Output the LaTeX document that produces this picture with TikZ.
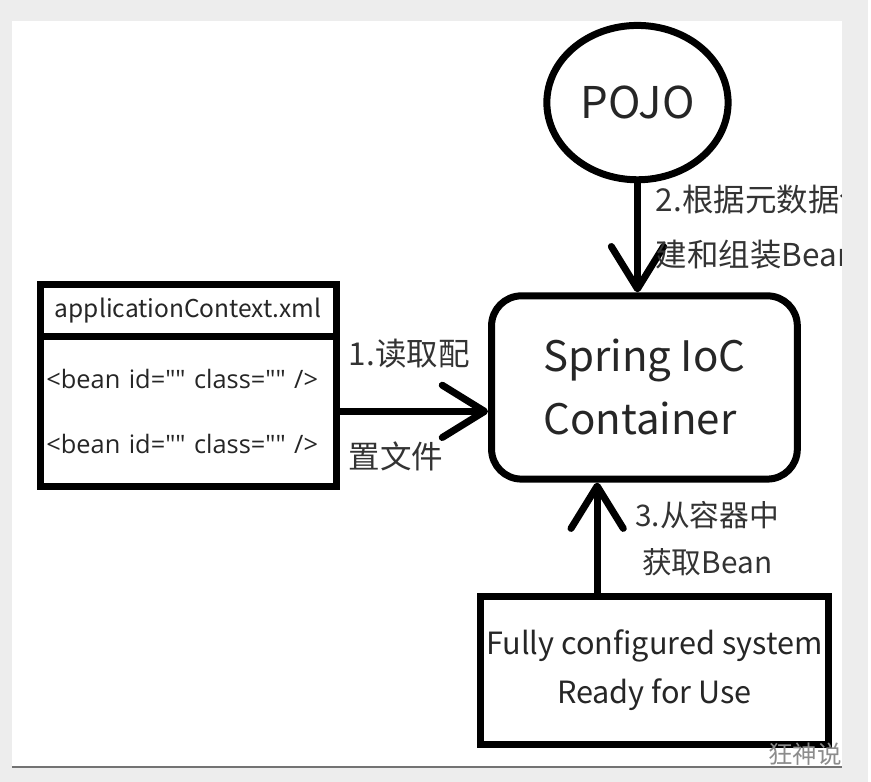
\documentclass[tikz,border=0pt]{standalone}
\usepackage{fontspec}
\setmainfont{Noto Sans CJK SC}
\newfontfamily\beanfont{Open Sans}
\usepackage{tikz}
\usetikzlibrary{shapes.geometric, arrows.meta, positioning}
\tikzstyle{arrow} = [line width=4pt, -{Straight Barb[length=0.85cm, width=1.05cm, line cap=round, line join=round]}]
\tikzstyle{box} = [rectangle, draw=black, line width=4pt, fill=white, text=black!85]
\tikzstyle{xmlbox} = [box, outer sep=0pt, minimum width=5.94cm, text width=5.7cm, font=\fontsize{14}{37}\selectfont]
\tikzstyle{lbl} = [inner sep=0pt, text=black!80, font=\fontsize{18}{24}\selectfont]

\begin{document}
\begin{tikzpicture}[x=0.02cm, y=-0.02cm]

% Page frame
\fill[black!7] (0,0) rectangle (871,785);
\fill[white] (12,21) rectangle (845,770);

% Main Components
\node (pojo) [ellipse, draw=black, line width=4pt, minimum width=3.64cm, minimum height=3.1cm, text=black!85, font=\fontsize{25}{30}\selectfont] at (640,103) {POJO};
\node (spring) [box, rounded corners=0.6cm, minimum width=6.14cm, minimum height=3.68cm, align=left, font=\fontsize{24}{36}\selectfont] at (647,389) {Spring IoC\\Container};
\node (xmlhead) [xmlbox, minimum height=1.04cm, align=center] at (189,312) {applicationContext.xml};
\node (xmlbody) [xmlbox, below=0pt of xmlhead, minimum height=3cm, align=left, font=\beanfont\fontsize{14.5}{37}\selectfont] {<bean id="" class="" />\\<bean id="" class="" />};
\node (ready) [box, minimum width=6.66cm, minimum height=2.98cm, align=center, font=\fontsize{17.5}{28}\selectfont] at (657,673) {Fully configured system\\Ready for Use};

% Connections
\draw [arrow] (pojo.south) -- (pojo.south |- spring.north);
\draw [arrow] (xmlbody.east) -- (xmlbody.east -| spring.west);
\draw [arrow] ([xshift=-1.15cm]ready.north) -- ([xshift=-1.15cm]ready.north |- spring.south);

% Labels
\node (lbl1a) [lbl, anchor=west] at (350,355) {1.读取配};
\node (lbl1b) [lbl, anchor=west] at (350,458) {置文件};
\node (lbl2) [lbl, anchor=west, align=left, font=\fontsize{18}{31}\selectfont] at (658,228) {2.根据元数据创\\建和组装Bean};
\node (lbl3) [lbl, align=center, font=\fontsize{17}{27}\selectfont] at (710,541) {3.从容器中\\获取Bean};
\node (mark) [text=black!45, font=\fontsize{14}{14}\selectfont] at (808,757) {狂神说};

% Right margin and bottom rule
\fill[black!7] (845,0) rectangle (871,785);
\draw[black!55, line width=0.8pt] (12,770) -- (845,770);

\end{tikzpicture}
\end{document}
